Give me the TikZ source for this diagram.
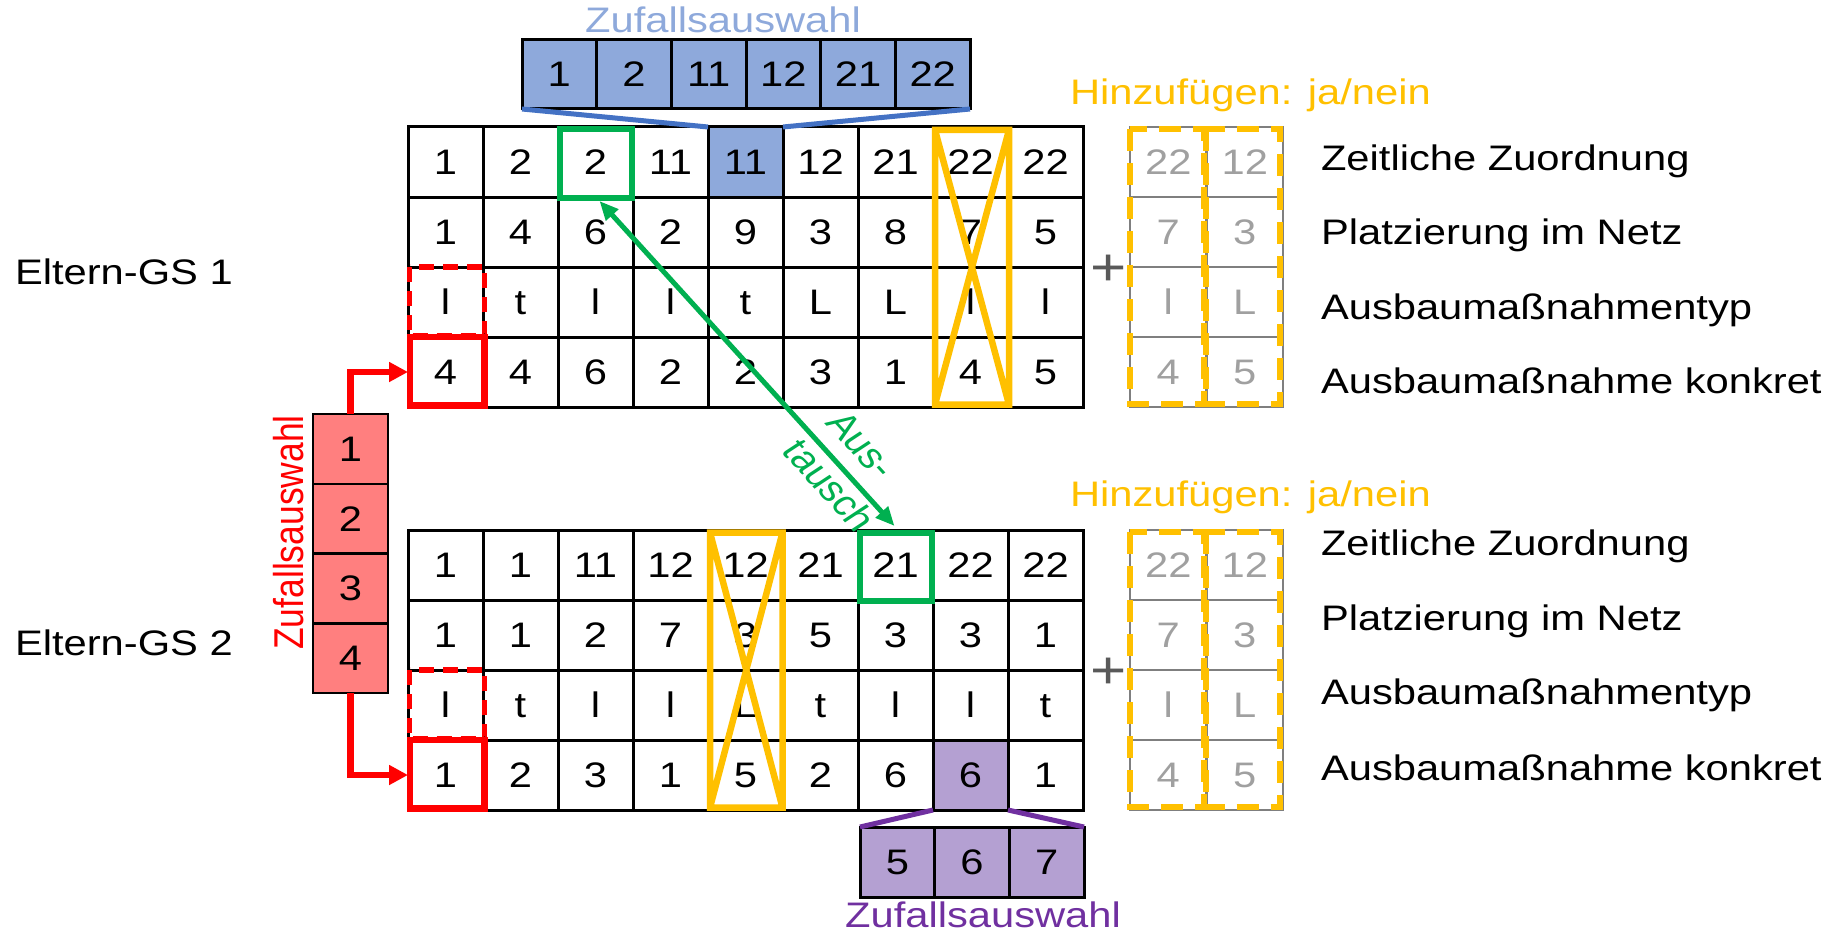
\documentclass[tikz,border=0pt]{standalone}
\usepackage{fontspec}
\setmainfont{Liberation Sans}
\usepackage{graphicx}
\usetikzlibrary{arrows.meta,calc,backgrounds}
\definecolor{cblue}{HTML}{8EA9DB}
\definecolor{cblueline}{HTML}{4472C4}
\definecolor{cred}{HTML}{FF0000}
\definecolor{credfill}{HTML}{FF7F7F}
\definecolor{cpurple}{HTML}{7030A0}
\definecolor{cpurplefill}{HTML}{B4A0D2}
\definecolor{cgreen}{HTML}{00B050}
\definecolor{cyellow}{HTML}{FFC000}
\definecolor{cgraytext}{HTML}{A0A0A0}
\definecolor{cgrayline}{HTML}{7F7F7F}
\definecolor{cplus}{HTML}{595959}
\newcommand{\vsq}[1]{\scalebox{1}[0.85]{#1}}
\begin{document}
\begin{tikzpicture}[x=1pt,y=-1pt,
  font=\fontsize{41.7pt}{55pt}\selectfont,
  cell/.style={draw=black, line width=3pt, minimum width=75pt, minimum height=70pt, inner sep=0pt, outer sep=0pt},
  rcell/.style={draw=cgrayline, line width=2.2pt, minimum width=76.5pt, minimum height=70pt, inner sep=0pt, outer sep=0pt, text=cgraytext},
  lab/.style={inner sep=0pt, outer sep=0pt},
  greenbox/.style={draw=cgreen, line width=6pt},
  yellowx/.style={draw=cyellow, line width=6.5pt},
  yellowdash/.style={draw=cyellow, line width=6pt, dash pattern=on 22pt off 12pt},
  reddash/.style={draw=cred, line width=5.5pt, dash pattern=on 15pt off 9pt},
  redsolid/.style={draw=cred, line width=6.5pt},
  redarrow/.style={draw=cred, line width=6.5pt, -{Triangle[length=19pt,width=19pt]}},
  greenarrow/.style={draw=cgreen, line width=5pt, {Triangle[length=19pt,width=16pt]}-{Triangle[length=19pt,width=16pt]}},
  blueline/.style={draw=cblueline, line width=5pt},
  purpleline/.style={draw=cpurple, line width=5pt}]
\useasboundingbox (0,0) rectangle (1833,931);

% parent grids
\foreach \r/\row in {1/{1,2,2,11,11,12,21,22,22},2/{1,4,6,2,9,3,8,7,5},3/{l,t,l,l,t,L,L,l,l},4/{4,4,6,2,2,3,1,4,5}}
  \foreach \v [count=\c] in \row
    \node[cell] (a-\r-\c) at ({408+75*(\c-0.5)},{127+70*(\r-0.5)}) {\vsq{\vphantom{1}\v}};
\foreach \r/\row in {1/{1,1,11,12,12,21,21,22,22},2/{1,1,2,7,3,5,3,3,1},3/{l,t,l,l,L,t,l,l,t},4/{1,2,3,1,5,2,6,6,1}}
  \foreach \v [count=\c] in \row
    \node[cell] (b-\r-\c) at ({408+75*(\c-0.5)},{530+70*(\r-0.5)}) {\vsq{\vphantom{1}\v}};

\begin{scope}[on background layer]
  \fill[cblue] (a-1-5.north west) rectangle (a-1-5.south east);
  \fill[cpurplefill] (b-4-8.north west) rectangle (b-4-8.south east);
\end{scope}

% additional genes
\foreach \r/\row in {1/{22,12},2/{7,3},3/{l,L},4/{4,5}}
  \foreach \v [count=\c] in \row {
    \node[rcell] (ra-\r-\c) at ({1130+76.5*(\c-0.5)},{127+70*(\r-0.5)}) {\vsq{\vphantom{1}\v}};
    \node[rcell] (rb-\r-\c) at ({1130+76.5*(\c-0.5)},{530+70*(\r-0.5)}) {\vsq{\vphantom{1}\v}};
  }

% random selection boxes
\foreach \v [count=\c] in {1,2,11,12,21,22}
  \node[cell, fill=cblue, minimum width=74.67pt, minimum height=69pt] (z-\c) at ({522+74.67*(\c-0.5)},74.5) {\vsq{\vphantom{1}\v}};
\foreach \v in {1,2,3,4}
  \node[cell, fill=credfill, line width=2.5pt, minimum height=69.75pt] (q-\v) at (350.5,{414+69.75*(\v-0.5)}) {\vsq{\vphantom{1}\v}};
\foreach \v [count=\c] in {5,6,7}
  \node[cell, fill=cpurplefill, minimum width=74.67pt] (p-\c) at ({860+74.67*(\c-0.5)},862) {\vsq{\vphantom{1}\v}};

% texts
\node[lab, anchor=base, text=cblue] (tz1) at (723,33) {\vsq{Zufallsauswahl}};
\node[lab, anchor=base, text=cpurple] (tz3) at (983,927) {\vsq{Zufallsauswahl}};
\node[lab, anchor=east, text=cred] (tz2) at (304,532.5) {\vsq{\rotatebox{90}{Zufallsauswahl}}};
\node[lab, anchor=base west] (eg1) at (15,284.7) {\vsq{Eltern-GS 1}};
\node[lab, anchor=base west] (eg2) at (15,655) {\vsq{Eltern-GS 2}};
\node[lab, anchor=base west, text=cyellow] (h1) at (1070,105) {\vsq{Hinzufügen: ja/nein}};
\node[lab, anchor=base west, text=cyellow] (h2) at (1070,506) {\vsq{Hinzufügen: ja/nein}};
\foreach \t/\y [count=\i] in {Zeitliche Zuordnung/170, Platzierung im Netz/244, Ausbaumaßnahmentyp/319, Ausbaumaßnahme konkret/393}
  \node[lab, anchor=base west] (la-\i) at (1321,\y) {\vsq{\t}};
\foreach \t/\y [count=\i] in {Zeitliche Zuordnung/555, Platzierung im Netz/630, Ausbaumaßnahmentyp/704, Ausbaumaßnahme konkret/780}
  \node[lab, anchor=base west] (lb-\i) at (1321,\y) {\vsq{\t}};
\node[lab, text=cplus, font=\fontsize{62pt}{62pt}\selectfont] (plus1) at (1108.5,270) {\vsq{+}};
\node[lab, text=cplus, font=\fontsize{62pt}{62pt}\selectfont] (plus2) at (1108.5,673) {\vsq{+}};

% blue and purple connectors
\draw[blueline] (z-1.south west) -- (a-1-5.north west);
\draw[blueline] (z-6.south east) -- (a-1-5.north east);
\draw[purpleline] (b-4-8.south west) -- (p-1.north west);
\draw[purpleline] (b-4-8.south east) -- (p-3.north east);

% green boxes
\draw[greenbox] ([shift={(1.5,2.5)}]a-1-3.north west) rectangle ([shift={(-1,1)}]a-1-3.south east);
\draw[greenbox] ([shift={(1.5,2.5)}]b-1-7.north west) rectangle ([shift={(-1,1)}]b-1-7.south east);

% yellow crossed columns
\coordinate (y1) at ([shift={(2,3)}]a-1-8.north west);
\coordinate (y2) at ([shift={(1,-2.5)}]a-4-8.south east);
\draw[yellowx] (y1) rectangle (y2) (y1) -- (y2) (y1 -| y2) -- (y1 |- y2);
\coordinate (y3) at ([shift={(2,2.5)}]b-1-5.north west);
\coordinate (y4) at ([shift={(-0.5,-2.5)}]b-4-5.south east);
\draw[yellowx] (y3) rectangle (y4) (y3) -- (y4) (y3 -| y4) -- (y3 |- y4);

% yellow dashed added genes
\draw[yellowdash] ([shift={(0,2)}]ra-1-1.north west) rectangle ([shift={(-3,-3)}]ra-4-1.south east);
\draw[yellowdash] ([shift={(-1,2)}]ra-1-2.north west) rectangle ([shift={(-3,-3)}]ra-4-2.south east);
\draw[yellowdash] ([shift={(0,2)}]rb-1-1.north west) rectangle ([shift={(-3,-3)}]rb-4-1.south east);
\draw[yellowdash] ([shift={(-1,2)}]rb-1-2.north west) rectangle ([shift={(-3,-3)}]rb-4-2.south east);

% red boxes
\draw[reddash] ([shift={(1.5,0)}]a-3-1.north west) rectangle ([shift={(1.5,-1)}]a-3-1.south east);
\draw[redsolid] ([shift={(2,0)}]a-4-1.north west) rectangle ([shift={(1.5,-1.5)}]a-4-1.south east);
\draw[reddash] ([shift={(1.5,0)}]b-3-1.north west) rectangle ([shift={(1.5,-1)}]b-3-1.south east);
\draw[redsolid] ([shift={(2,0)}]b-4-1.north west) rectangle ([shift={(1.5,-1.5)}]b-4-1.south east);

% red arrows
\draw[redarrow] (q-1.north) |- (a-4-1.west);
\draw[redarrow] (q-4.south) |- (b-4-1.west);

% exchange arrow
\draw[greenarrow] ([shift={(4,4)}]a-1-3.south) -- ([shift={(-1,-4)}]b-1-7.north);
\node[lab, text=cgreen] (aus) at (849,473) {\vsq{\rotatebox{-52.3}{\begin{tabular}{@{}l@{}}Aus-\\tausch\end{tabular}}}};
\end{tikzpicture}
\end{document}
